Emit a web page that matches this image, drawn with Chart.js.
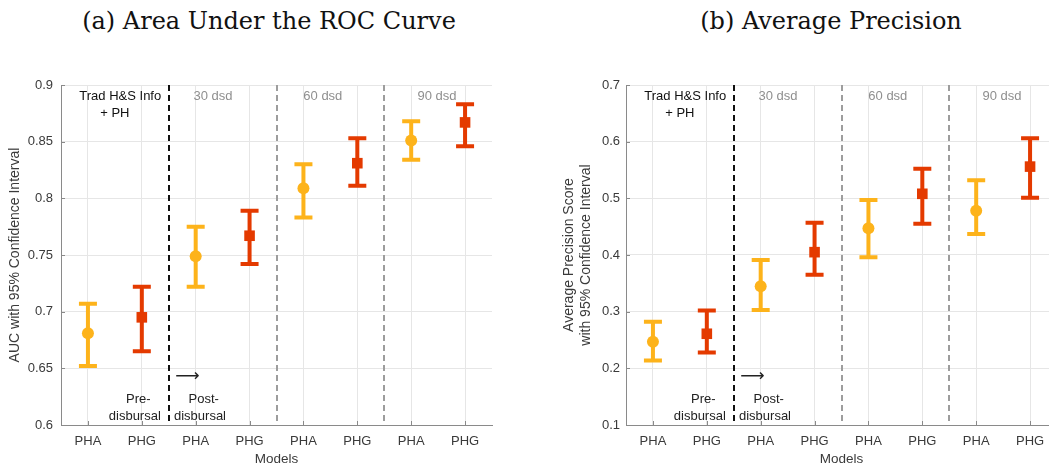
<!DOCTYPE html>
<html>
<head>
<meta charset="utf-8">
<script src="https://cdn.jsdelivr.net/npm/chart.js@4/dist/chart.umd.min.js"></script>
<style>
  html, body { margin: 0; padding: 0; background: #fff; width: 1049px; height: 468px; overflow: hidden; position: relative; }
  .panel { position: absolute; top: 0; height: 468px; }
  #p1 { left: 0; width: 520px; }
  #p2 { left: 540px; width: 530px; }
  .ttl { position: absolute; top: 10px; font-family: "DejaVu Serif", serif; font-size: 24px; line-height: 22px; color: #111;
         white-space: nowrap; transform: translateX(-50%); }
</style>
</head>
<body>
<div class="ttl" style="left:269px">(a) Area Under the ROC Curve</div>
<div class="ttl" style="left:831px">(b) Average Precision</div>
<div class="panel" id="p1"><canvas id="c1" width="520" height="468"></canvas></div>
<div class="panel" id="p2"><canvas id="c2" width="530" height="468"></canvas></div>
<script>
// Model sequence along the x axis (two models per feature set)
const models = ['PHA', 'PHG', 'PHA', 'PHG', 'PHA', 'PHG', 'PHA', 'PHG'];
// Feature-set groups, one per pair of models
const groupNames = ['Trad H&S Info', '30 dsd', '60 dsd', '90 dsd'];
const groupSubline = '+ PH';

// (a) AUC with 95% confidence interval
const aucMean = [0.681, 0.695, 0.749, 0.767, 0.809, 0.831, 0.851, 0.867];
const aucLow  = [0.652, 0.665, 0.722, 0.742, 0.783, 0.811, 0.834, 0.846];
const aucHigh = [0.707, 0.722, 0.775, 0.789, 0.830, 0.853, 0.868, 0.883];
const aucTicks = [0.6, 0.65, 0.7, 0.75, 0.8, 0.85, 0.9];

// (b) Average precision with 95% confidence interval
const apMean = [0.247, 0.261, 0.345, 0.405, 0.447, 0.508, 0.478, 0.556];
const apLow  = [0.214, 0.228, 0.303, 0.365, 0.396, 0.455, 0.437, 0.501];
const apHigh = [0.282, 0.302, 0.391, 0.457, 0.497, 0.552, 0.532, 0.606];
const apTicks = [0.1, 0.2, 0.3, 0.4, 0.5, 0.6, 0.7];

const YELLOW = '#FDB31B';
const RED = '#E43A00';
const SANS = '"Liberation Sans", Arial, sans-serif';

// Vertical separators between feature sets (between model pairs)
const separators = [2.5, 4.5, 6.5];

const decor = {
  id: 'decor',
  beforeDatasetsDraw(chart) {
    const { ctx, chartArea: a, scales: { x, y } } = chart;
    const o = chart.options.plugins.decor;
    ctx.save();
    // small inward tick marks on both axes
    ctx.strokeStyle = '#8a8a8a';
    ctx.lineWidth = 1;
    ctx.beginPath();
    y.ticks.forEach(t => {
      const py = Math.round(y.getPixelForValue(t.value)) + 0.5;
      ctx.moveTo(a.left, py); ctx.lineTo(a.left + 4, py);
    });
    x.ticks.forEach(t => {
      const px = Math.round(x.getPixelForValue(t.value)) + 0.5;
      ctx.moveTo(px, a.bottom); ctx.lineTo(px, a.bottom - 4);
    });
    ctx.stroke();
    // dashed separators
    separators.forEach((v, i) => {
      const px = Math.round(x.getPixelForValue(v));
      ctx.setLineDash([6, 4]);
      ctx.lineWidth = 2;
      ctx.strokeStyle = i === 0 ? '#111' : '#9d9d9d';
      ctx.beginPath();
      ctx.moveTo(px, a.top);
      ctx.lineTo(px, a.bottom);
      ctx.stroke();
    });
    ctx.setLineDash([]);
    // confidence-interval bars
    o.low.forEach((lo, i) => {
      const px = x.getPixelForValue(i + 1);
      const y0 = y.getPixelForValue(lo);
      const y1 = y.getPixelForValue(o.high[i]);
      ctx.strokeStyle = models[i] === 'PHA' ? YELLOW : RED;
      ctx.lineWidth = 4;
      ctx.lineCap = 'butt';
      ctx.beginPath();
      ctx.moveTo(px, y0); ctx.lineTo(px, y1);
      ctx.moveTo(px - 9, y0); ctx.lineTo(px + 9, y0);
      ctx.moveTo(px - 9, y1); ctx.lineTo(px + 9, y1);
      ctx.stroke();
    });
    ctx.restore();
  },
  afterDatasetsDraw(chart) {
    const { ctx, scales: { x } } = chart;
    ctx.save();
    ctx.textBaseline = 'middle';
    ctx.textAlign = 'center';
    ctx.font = '13px ' + SANS;
    // group headers
    ctx.fillStyle = '#111';
    ctx.fillText(groupNames[0], x.getPixelForValue(1.6), 96);
    ctx.fillText(groupSubline, x.getPixelForValue(1.5), 113);
    ctx.fillStyle = '#8f8f8f';
    ctx.fillText(groupNames[1], x.getPixelForValue(3.32), 96);
    ctx.fillText(groupNames[2], x.getPixelForValue(5.36), 96);
    ctx.fillText(groupNames[3], x.getPixelForValue(7.48), 96);
    // disbursal markers
    ctx.fillStyle = '#222';
    ctx.fillText('Pre-', x.getPixelForValue(1.935), 399);
    ctx.fillText('disbursal', x.getPixelForValue(1.87), 416);
    ctx.fillText('Post-', x.getPixelForValue(3.15), 399);
    ctx.fillText('disbursal', x.getPixelForValue(3.08), 416);
    ctx.textAlign = 'left';
    ctx.font = '17px "DejaVu Sans", sans-serif';
    ctx.fillText('\u27F6', x.getPixelForValue(2.62), 377);
    ctx.restore();
  }
};

function fmt(v) { return String(+v.toFixed(2)); }

function build(id, mean, low, high, ticks, yTitle, opts) {
  const pha = [], phg = [];
  mean.forEach((m, i) => (models[i] === 'PHA' ? pha : phg).push({ x: i + 1, y: m }));
  return new Chart(document.getElementById(id), {
    type: 'scatter',
    data: {
      datasets: [
        { data: pha, pointStyle: 'circle', pointRadius: 6, backgroundColor: YELLOW, borderWidth: 0 },
        { data: phg, pointStyle: 'rect', pointRadius: 7.5, backgroundColor: RED, borderWidth: 0 }
      ]
    },
    options: {
      responsive: false,
      animation: false,
      events: [],
      layout: { padding: { top: 85, right: opts.right, left: 0, bottom: 0 } },
      plugins: {
        legend: { display: false },
        tooltip: { enabled: false },
        decor: { low, high }
      },
      scales: {
        x: {
          type: 'linear', min: 0.5, max: 8.5,
          afterBuildTicks: s => { s.ticks = models.map((m, i) => ({ value: i + 1 })); },
          afterFit: s => { s.height = 43; },
          ticks: { callback: v => models[v - 1], color: '#3a3a3a', font: { family: SANS, size: 13 }, padding: 9, maxRotation: 0 },
          grid: { color: '#e6e6e6', drawTicks: false },
          border: { color: '#8a8a8a', width: 1 },
          title: { display: true, text: 'Models', color: '#3a3a3a', font: { family: SANS, size: 13.5 }, padding: { top: 0, bottom: 1 } }
        },
        y: {
          type: 'linear', min: ticks[0], max: ticks[ticks.length - 1],
          afterBuildTicks: s => { s.ticks = ticks.map(v => ({ value: v })); },
          afterFit: s => { s.width = opts.yWidth; },
          ticks: { callback: v => fmt(v), color: '#3a3a3a', font: { family: SANS, size: 13 }, padding: opts.tickPad },
          grid: { color: '#e6e6e6', drawTicks: false },
          border: { color: '#8a8a8a', width: 1 },
          title: { display: true, text: yTitle, color: '#3a3a3a', font: { family: SANS, size: 14 }, padding: { top: opts.titlePad, bottom: 0 } }
        }
      }
    },
    plugins: [decor]
  });
}

build('c1', aucMean, aucLow, aucHigh, aucTicks, 'AUC with 95% Confidence Interval',
      { right: 28, yWidth: 61, tickPad: 8, titlePad: 7 });
build('c2', apMean, apLow, apHigh, apTicks, ['Average Precision Score', 'with 95% Confidence Interval'],
      { right: 13, yWidth: 86, tickPad: 6, titlePad: 21 });
</script>
</body>
</html>
